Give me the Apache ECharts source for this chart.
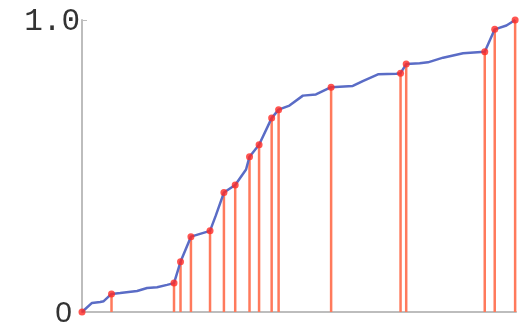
<!DOCTYPE html>
<html>
<head>
<meta charset="utf-8">
<script src="https://cdn.jsdelivr.net/npm/echarts@6/dist/echarts.min.js"></script>
<style>html,body{margin:0;padding:0;background:#fff;}#c{width:519px;height:329px;}</style>
</head>
<body>
<div id="c"></div>
<script>
// Sample points (red dots with drop lines)
const sampleX = [0, 6.8, 21.2, 22.7, 25.1, 29.5, 32.7, 35.3, 38.6, 40.8, 43.7, 45.3, 57.4, 73.4, 74.7, 92.8, 95.1, 99.8];
const sampleY = [0, 0.062, 0.099, 0.172, 0.258, 0.278, 0.409, 0.435, 0.532, 0.573, 0.664, 0.693, 0.770, 0.818, 0.849, 0.891, 0.968, 1.0];
// Blue curve
const curveX = [0, 2.3, 4.2, 5.0, 6.8, 8.8, 12.7, 15.0, 17.3, 19.6, 21.2, 22.7, 25.1, 29.5, 30.8, 32.7, 35.3, 37.8, 38.6, 40.8, 43.7, 45.3, 47.8, 50.9, 53.9, 57.4, 62.4, 64.7, 68.2, 72.4, 73.4, 74.7, 77.8, 79.7, 83.2, 87.8, 92.8, 95.1, 97.8, 99.8];
const curveY = [0, 0.031, 0.034, 0.037, 0.062, 0.065, 0.072, 0.082, 0.085, 0.093, 0.099, 0.172, 0.258, 0.278, 0.329, 0.409, 0.435, 0.488, 0.532, 0.573, 0.664, 0.693, 0.707, 0.741, 0.745, 0.770, 0.774, 0.791, 0.814, 0.816, 0.818, 0.849, 0.852, 0.855, 0.871, 0.886, 0.891, 0.968, 0.981, 1.0];
const yTicks = [0, 1];
const yTickLabels = ['0', '1.0'];

const samples = sampleX.map((x, i) => [x, sampleY[i]]);
const curve = curveX.map((x, i) => [x, curveY[i]]);

const chart = echarts.init(document.getElementById('c'));
chart.setOption({
  animation: false,
  grid: { left: 82, right: 3, top: 20, bottom: 16 },
  xAxis: {
    type: 'value', min: 0, max: 100,
    axisLine: { show: true, lineStyle: { color: '#bdbdbd', width: 2 } },
    axisTick: { show: false }, axisLabel: { show: false }, splitLine: { show: false }
  },
  yAxis: {
    type: 'value', min: 0, max: 1, interval: 1,
    axisLine: { show: true, lineStyle: { color: '#bdbdbd', width: 2 } },
    axisTick: { show: true, inside: true, length: 5, lineStyle: { color: '#bdbdbd' } },
    axisLabel: {
      margin: 2, color: '#333',
      formatter: v => {
        const t = yTickLabels[yTicks.indexOf(v)];
        return v === 0 ? '{z|' + t + '}' : '{o|' + t + '}';
      },
      rich: {
        o: { fontFamily: 'Liberation Mono', fontSize: 31, color: '#333', padding: [4, 0, 0, 0] },
        z: { fontFamily: 'Liberation Sans', fontSize: 30, color: '#333', padding: [4, 8, 0, 0] }
      }
    },
    splitLine: { show: false }
  },
  series: [
    {
      type: 'custom',
      data: samples,
      renderItem: function (params, api) {
        const p0 = api.coord([api.value(0), 0]);
        const p1 = api.coord([api.value(0), api.value(1)]);
        return {
          type: 'line',
          shape: { x1: p0[0], y1: p0[1], x2: p1[0], y2: p1[1] },
          style: { stroke: '#ff7a5c', lineWidth: 2.5 }
        };
      },
      z: 1
    },
    {
      type: 'line', data: curve, showSymbol: false,
      lineStyle: { color: '#5a6cc6', width: 2.5 }, z: 2
    },
    {
      type: 'scatter', data: samples, symbolSize: 7,
      itemStyle: { color: '#ff2a24' }, z: 3
    }
  ]
});
</script>
</body>
</html>
